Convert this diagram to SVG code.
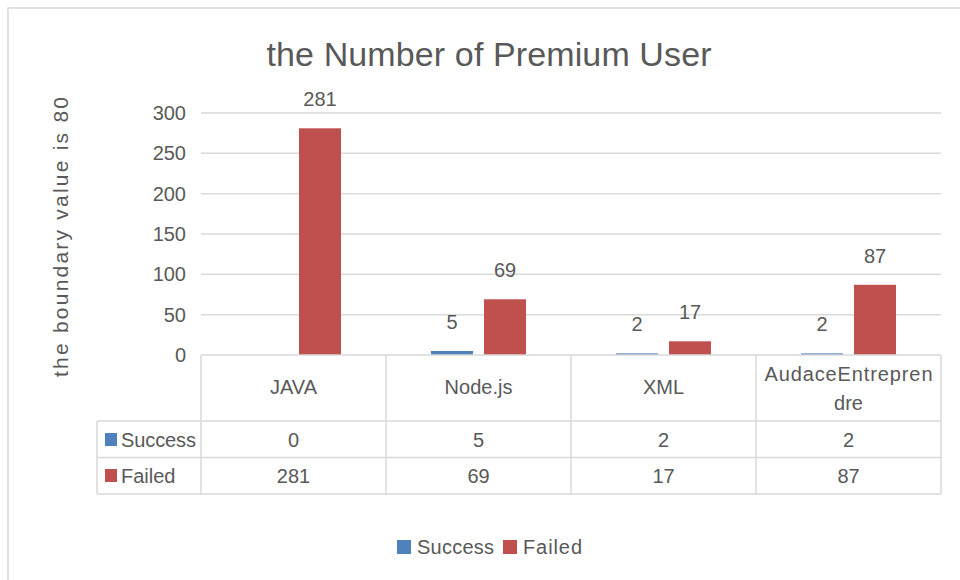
<svg xmlns="http://www.w3.org/2000/svg" width="960" height="580" viewBox="0 0 960 580">
<style>
text{font-family:"Liberation Sans",Arial,sans-serif;fill:#595959}
.t{font-size:20px}
.c{text-anchor:middle}
.r{text-anchor:end}
.g{stroke:#D9D9D9;stroke-width:1.5;fill:none}
.s{fill:#4F81BD}
.f{fill:#C0504D}
</style>
<rect width="960" height="580" fill="#fff"/>
<rect x="8" y="8" width="1000" height="1000" class="g"/>
<g id="title"><text x="489" y="66" class="c" font-size="34" textLength="445">the Number of Premium User</text></g>
<g id="axis-title"><text transform="translate(68,237) rotate(-90)" class="c" font-size="21" textLength="280">the boundary value is 80</text></g>
<g id="gridlines" class="g">
<line x1="201" y1="113" x2="941" y2="113"/>
<line x1="201" y1="153.3" x2="941" y2="153.3"/>
<line x1="201" y1="193.7" x2="941" y2="193.7"/>
<line x1="201" y1="234" x2="941" y2="234"/>
<line x1="201" y1="274.3" x2="941" y2="274.3"/>
<line x1="201" y1="314.7" x2="941" y2="314.7"/>
</g>
<g id="y-ticks" class="t r">
<text x="186" y="120">300</text>
<text x="186" y="160.3">250</text>
<text x="186" y="200.7">200</text>
<text x="186" y="241">150</text>
<text x="186" y="281.3">100</text>
<text x="186" y="321.7">50</text>
<text x="186" y="362">0</text>
</g>
<g id="series-success">
<rect class="s" x="431" y="351" width="42" height="4"/>
<rect class="s" x="616" y="353.4" width="42" height="1.6"/>
<rect class="s" x="801" y="353.4" width="42" height="1.6"/>
</g>
<g id="series-failed">
<rect class="f" x="299" y="128.3" width="42" height="226.7"/>
<rect class="f" x="484" y="299.3" width="42" height="55.7"/>
<rect class="f" x="669" y="341.3" width="42" height="13.7"/>
<rect class="f" x="854" y="284.8" width="42" height="70.2"/>
</g>
<g id="data-labels" class="t c">
<text x="320" y="106">281</text>
<text x="452" y="329">5</text>
<text x="505" y="277">69</text>
<text x="637" y="331">2</text>
<text x="690" y="319">17</text>
<text x="822" y="331">2</text>
<text x="875" y="263">87</text>
</g>
<g id="data-table">
<g class="g">
<line x1="201" y1="355" x2="941" y2="355"/>
<line x1="97" y1="421" x2="941" y2="421"/>
<line x1="97" y1="457.5" x2="941" y2="457.5"/>
<line x1="97" y1="494" x2="941" y2="494"/>
<line x1="97" y1="421" x2="97" y2="494"/>
<line x1="201" y1="355" x2="201" y2="494"/>
<line x1="386" y1="355" x2="386" y2="494"/>
<line x1="571" y1="355" x2="571" y2="494"/>
<line x1="756" y1="355" x2="756" y2="494"/>
<line x1="941" y1="355" x2="941" y2="494"/>
</g>
<g class="t c">
<text x="293.5" y="394">JAVA</text>
<text x="478.5" y="394">Node.js</text>
<text x="663.5" y="394">XML</text>
<text x="848.5" y="381" textLength="168">AudaceEntrepren</text>
<text x="848.5" y="410">dre</text>
<text x="293.5" y="447">0</text>
<text x="478.5" y="447">5</text>
<text x="663.5" y="447">2</text>
<text x="848.5" y="447">2</text>
<text x="293.5" y="483">281</text>
<text x="478.5" y="483">69</text>
<text x="663.5" y="483">17</text>
<text x="848.5" y="483">87</text>
</g>
<rect class="s" x="105" y="433" width="12" height="13"/>
<text class="t" x="121" y="447" textLength="75">Success</text>
<rect class="f" x="105" y="469" width="12" height="13"/>
<text class="t" x="121" y="483">Failed</text>
</g>
<g id="legend">
<rect class="s" x="397" y="540" width="14" height="14"/>
<text class="t" x="417" y="554" textLength="77">Success</text>
<rect class="f" x="503" y="540" width="14" height="14"/>
<text class="t" x="523" y="554" textLength="59">Failed</text>
</g>
</svg>
